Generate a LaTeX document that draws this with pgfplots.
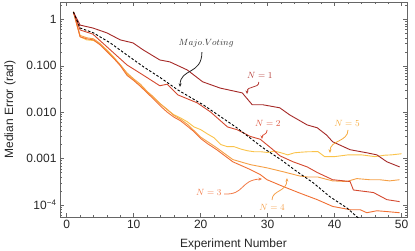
\documentclass[border=0pt]{standalone}
\usepackage{fontspec}
\setmainfont{Liberation Sans}
\usepackage{pgfplots}
\pgfplotsset{compat=1.18}
\usetikzlibrary{arrows.meta}
\definecolor{cA}{RGB}{165,40,38}
\definecolor{cB}{RGB}{212,72,46}
\definecolor{cC}{RGB}{240,112,52}
\definecolor{cD}{RGB}{245,160,70}
\definecolor{cE}{RGB}{250,195,75}
\definecolor{tA}{RGB}{180,60,55}
\definecolor{tB}{RGB}{220,85,62}
\definecolor{tC}{RGB}{242,122,70}
\definecolor{tD}{RGB}{245,160,75}
\definecolor{tE}{RGB}{246,170,60}
\begin{document}
\begin{tikzpicture}
\begin{axis}[name=ax,
  scale only axis, width=347pt, height=215pt,
  ymode=log, xmin=-1, xmax=50.8, ymin=5.5e-5, ymax=2.36,
  xtick={0,10,20,30,40,50}, xticklabels={0,10,20,30,40,50},
  minor xtick={2,4,6,8,12,14,16,18,22,24,26,28,32,34,36,38,42,44,46,48},
  ytick={1e-4,1e-3,1e-2,1e-1,1},
  yticklabels={10\textsuperscript{−4},0.001,0.010,0.100,1},
  minor ytick={6e-5,7e-5,8e-5,9e-5,2e-4,3e-4,4e-4,5e-4,6e-4,7e-4,8e-4,9e-4,2e-3,3e-3,4e-3,5e-3,6e-3,7e-3,8e-3,9e-3,2e-2,3e-2,4e-2,5e-2,6e-2,7e-2,8e-2,9e-2,0.2,0.3,0.4,0.5,0.6,0.7,0.8,0.9,2},
  tick align=inside, major tick length=4pt, minor tick length=2pt,
  axis line style={black!60}, every tick/.style={black!60},
  tick label style={font=\fontsize{12}{14}\selectfont, text=black!85},
  /pgf/number format/assume math mode=true,
  xlabel={Experiment Number}, ylabel={Median Error (rad)},
  every axis x label/.style={at={(axis description cs:0.5,0)}, yshift=-27pt, anchor=center, font=\fontsize{12}{14}\selectfont, text=black!85},
  every axis y label/.style={at={(axis description cs:0,0.5)}, xshift=-50pt, rotate=90, anchor=center, font=\fontsize{12}{14}\selectfont, text=black!85},
  every axis plot/.append style={line width=0.9pt, line join=round},
]
% N = 5
\addplot[cE] coordinates {(1,1.44) (2,0.42) (3,0.36) (4,0.35) (5,0.29) (6,0.22) (7,0.155) (8,0.104) (9,0.066) (10,0.050) (11,0.037) (12,0.027) (13,0.020) (14,0.015) (15,0.0112) (16,0.0088) (17,0.0075) (18,0.0062) (19,0.0048) (20,0.0042) (21,0.0034) (22,0.0028) (23,0.0020) (24,0.0018) (25,0.0018) (26,0.0016) (27,0.00147) (28,0.0014) (29,0.0014) (30,0.00135) (31,0.00145) (32,0.00133) (33,0.0012) (34,0.00133) (35,0.00137) (36,0.0014) (37.5,0.00141) (38.5,0.0011) (40,0.0011) (42,0.0012) (44,0.0012) (46,0.0011) (47.5,0.00118) (48.5,0.0012) (50,0.00127)};
% N = 4
\addplot[cD] coordinates {(1,1.44) (2,0.45) (3,0.40) (4,0.38) (5,0.30) (6,0.21) (7,0.15) (8,0.105) (9,0.07) (10,0.052) (11,0.040) (12,0.028) (13,0.021) (14,0.015) (15,0.0115) (16,0.0085) (17,0.0070) (18,0.0055) (19,0.0040) (20,0.0029) (22.4,0.0017) (24.8,0.00095) (27.4,0.00074) (29.9,0.00063) (32.3,0.00052) (34.8,0.00042) (36,0.00040) (37.5,0.00040) (39,0.00035) (39.7,0.00033) (41.8,0.00032) (43.3,0.00037) (45.2,0.00035) (46.7,0.00035) (48.2,0.00033) (49.7,0.00035)};
% N = 3
\addplot[cC] coordinates {(1,1.44) (2,0.42) (3,0.38) (4,0.36) (5,0.28) (6,0.20) (7,0.145) (8,0.10) (9,0.062) (10,0.048) (11,0.036) (12,0.026) (13,0.019) (14,0.0135) (15,0.010) (16,0.0078) (17,0.0065) (18,0.0050) (19,0.0038) (20,0.0027) (21,0.0021) (22.4,0.00155) (24.8,0.00085) (27.4,0.00058) (28.9,0.00045) (29.9,0.00035) (32.3,0.00025) (34.8,0.00018) (37.4,0.00013) (39.7,0.000093) (42.3,0.000079) (43.8,0.000079) (44.8,0.000068) (46.3,0.000075) (47.8,0.000072) (49.7,0.000068)};
% N = 2
\addplot[cB] coordinates {(1,1.44) (2,0.59) (3.9,0.48) (6.5,0.22) (9,0.104) (11.4,0.063) (13.9,0.037) (15,0.040) (16.6,0.0235) (19.5,0.0158) (21.5,0.010) (24,0.0048) (25.4,0.0042) (27.4,0.0030) (28.9,0.0026) (30.8,0.00155) (31.8,0.00115) (33.8,0.00085) (35.9,0.00066) (37.4,0.0005) (39.7,0.00035) (42.3,0.00032) (42.8,0.00021) (45.8,0.000185) (47.8,0.00013) (49.7,0.000118)};
% N = 1
\addplot[cA] coordinates {(1,1.44) (2,0.75) (3.9,0.65) (6,0.51) (8,0.36) (9.9,0.31) (11.4,0.22) (13.9,0.133) (15.4,0.121) (18,0.081) (20.3,0.045) (22.9,0.033) (26.2,0.026) (27.7,0.0144) (29.3,0.0144) (31.8,0.0124) (33.3,0.0087) (35.9,0.0053) (37.4,0.0046) (38.8,0.0032) (39.7,0.0023) (42.3,0.00155) (44.8,0.00133) (46.3,0.0012) (47.8,0.00085) (49.7,0.00066)};
% Majority voting
\addplot[black, dash pattern=on 2.5pt off 1.8pt] coordinates {(1,1.44) (2,0.65) (4,0.51) (6.5,0.31) (9,0.17) (11.5,0.094) (14,0.055) (16.6,0.030) (20.4,0.0143) (25.4,0.0046) (29.3,0.0017) (32,0.00094) (34.4,0.00052) (36.8,0.0003) (39.3,0.00015) (41.8,0.000087) (43.3,0.000056) (45,0.000035)};
% annotations
\node[font=\fontsize{9}{10}\selectfont, text=black!80] at (rel axis cs:0.421,0.809) {$Majo.Voting$};
\draw[black!85, line width=0.8pt, -{Stealth[length=3.5pt,width=3pt]}] (rel axis cs:0.409,0.767) .. controls (rel axis cs:0.409,0.660) and (rel axis cs:0.346,0.693) .. (rel axis cs:0.346,0.605);
\node[font=\fontsize{9}{10}\selectfont, text=tA] at (rel axis cs:0.576,0.660) {$N=1$};
\draw[tA, line width=0.8pt, -{Stealth[length=3.5pt,width=3pt]}] (rel axis cs:0.573,0.628) .. controls (rel axis cs:0.573,0.595) and (rel axis cs:0.539,0.614) .. (rel axis cs:0.539,0.572);
\node[font=\fontsize{9}{10}\selectfont, text=tB] at (rel axis cs:0.599,0.437) {$N=2$};
\draw[tB, line width=0.8pt, -{Stealth[length=3.5pt,width=3pt]}] (rel axis cs:0.597,0.405) .. controls (rel axis cs:0.597,0.381) and (rel axis cs:0.582,0.386) .. (rel axis cs:0.582,0.363);
\node[font=\fontsize{9}{10}\selectfont, text=tE] at (rel axis cs:0.827,0.437) {$N=5$};
\draw[tE, line width=0.8pt, -{Stealth[length=3.5pt,width=3pt]}] (rel axis cs:0.830,0.405) .. controls (rel axis cs:0.830,0.349) and (rel axis cs:0.778,0.358) .. (rel axis cs:0.778,0.298);
\node[font=\fontsize{9}{10}\selectfont, text=tC] at (rel axis cs:0.429,0.112) {$N=3$};
\draw[tC, line width=0.8pt, -{Stealth[length=3.5pt,width=3pt]}] (rel axis cs:0.473,0.107) .. controls (rel axis cs:0.533,0.102) and (rel axis cs:0.519,0.172) .. (rel axis cs:0.582,0.177);
\node[font=\fontsize{9}{10}\selectfont, text=tD] at (rel axis cs:0.611,0.046) {$N=4$};
\draw[tD, line width=0.8pt, -{Stealth[length=3.5pt,width=3pt]}] (rel axis cs:0.611,0.079) .. controls (rel axis cs:0.611,0.126) and (rel axis cs:0.654,0.116) .. (rel axis cs:0.654,0.181);
\end{axis}
\pgfresetboundingbox
\path ([xshift=-60pt,yshift=-34pt]ax.south west) rectangle ([xshift=8pt,yshift=2pt]ax.north east);
\end{tikzpicture}
\end{document}
